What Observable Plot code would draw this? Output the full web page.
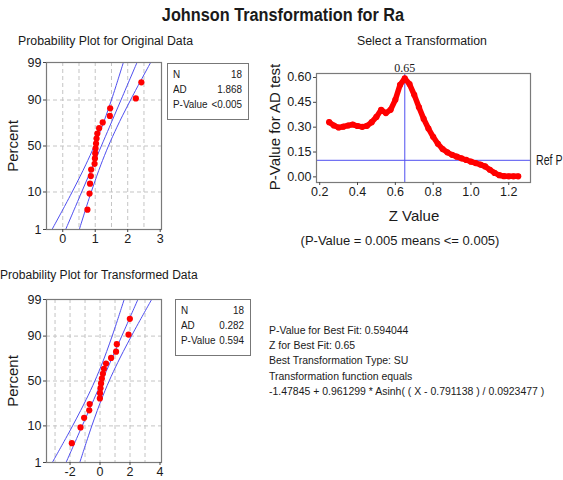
<!DOCTYPE html>
<html><head><meta charset="utf-8">
<script src="https://cdn.jsdelivr.net/npm/d3@7"></script>
<script src="https://cdn.jsdelivr.net/npm/@observablehq/plot@0.6"></script>
<style>
body{margin:0;background:#fff;}
#root{position:relative;width:563px;height:480px;overflow:hidden;font-family:"Liberation Sans",Arial,sans-serif;color:#1a1a1a;background:#fff;}
.abs{position:absolute;white-space:nowrap;line-height:1;}
.box{position:absolute;border:1.3px solid #777;box-sizing:border-box;font-size:11.5px;overflow:hidden;}
.box .inner{position:absolute;left:5px;top:3px;transform-origin:left top;}
.box .row{display:flex;justify-content:space-between;height:15px;line-height:15px;white-space:nowrap;}
.box .row span{flex-shrink:0;}
svg{position:absolute;}
</style></head><body><div id="root"></div>
<script>
// ---------- data ----------
const percentLevels = [3.80, 9.24, 14.67, 20.11, 25.54, 30.98, 36.41, 41.85, 47.28, 52.72, 58.15, 63.59, 69.02, 74.46, 79.89, 85.33, 90.76, 96.20];
const originalData = [0.76, 0.825, 0.84, 0.865, 0.875, 0.98, 0.99, 1.00, 1.01, 1.025, 1.04, 1.065, 1.12, 1.23, 1.45, 1.46, 2.25, 2.42];
const transformedData = [-1.88, -1.30, -1.06, -0.72, -0.69, -0.01, 0.00, 0.03, 0.07, 0.12, 0.19, 0.26, 0.40, 0.74, 1.07, 1.12, 1.90, 1.99];

const bandPercent = [1, 5, 10, 20, 30, 50, 70, 80, 90, 95, 99];
const origLower = [-0.330, 0.078, 0.289, 0.537, 0.708, 0.970, 1.203, 1.331, 1.499, 1.630, 1.866];
const origFit   = [0.090, 0.412, 0.583, 0.791, 0.941, 1.188, 1.436, 1.585, 1.793, 1.964, 2.286];
const origUpper = [0.510, 0.746, 0.877, 1.045, 1.173, 1.406, 1.668, 1.839, 2.087, 2.298, 2.706];
const transLower = [-3.182, -2.294, -1.832, -1.291, -0.918, -0.346, 0.162, 0.443, 0.808, 1.094, 1.610];
const transFit   = [-2.266, -1.564, -1.190, -0.737, -0.410, 0.130, 0.670, 0.997, 1.450, 1.824, 2.526];
const transUpper = [-1.350, -0.834, -0.548, -0.183, 0.098, 0.606, 1.178, 1.551, 2.092, 2.554, 3.442];

const zValues = [0.250,0.275,0.300,0.325,0.350,0.375,0.400,0.425,0.450,0.475,0.500,0.525,0.550,0.575,0.600,0.625,0.650,0.675,0.700,0.725,0.750,0.775,0.800,0.825,0.850,0.875,0.900,0.925,0.950,0.975,1.000,1.025,1.050,1.075,1.100,1.125,1.150,1.175,1.200,1.225,1.250];
const pValues = [0.330,0.310,0.298,0.303,0.310,0.316,0.307,0.302,0.308,0.330,0.362,0.405,0.385,0.405,0.465,0.555,0.594,0.560,0.495,0.420,0.350,0.292,0.242,0.200,0.168,0.148,0.133,0.122,0.112,0.102,0.092,0.083,0.074,0.063,0.043,0.024,0.010,0.004,0.003,0.003,0.003];
const bestZ = 0.65;
const refP = 0.10;

const probTicks = [1, 10, 50, 90, 99];
const probGrid = [10, 50, 90];
const origXTicks = [0, 1, 2, 3];
const origXGrid = [0, 0.5, 1, 1.5, 2, 2.5];
const transXTicks = [-2, 0, 2, 4];
const transXGrid = [-3, -2, -1, 0, 1, 2, 3];
const zTicks = [0.2, 0.4, 0.6, 0.8, 1.0, 1.2];
const pTicks = [0, 0.15, 0.30, 0.45, 0.60];

const origStats = [["N", "18"], ["AD", "1.868"], ["P-Value", "<0.005"]];
const transStats = [["N", "18"], ["AD", "0.282"], ["P-Value", "0.594"]];
const fitNotes = [
  "P-Value for Best Fit: 0.594044",
  "Z for Best Fit: 0.65",
  "Best Transformation Type: SU",
  "Transformation function equals",
  "-1.47845 + 0.961299 * Asinh( ( X - 0.791138 ) / 0.0923477 )"
];

// ---------- helpers ----------
function probit(p){
  const a=[-3.969683028665376e+01,2.209460984245205e+02,-2.759285104469687e+02,1.383577518672690e+02,-3.066479806614716e+01,2.506628277459239e+00];
  const b=[-5.447609879822406e+01,1.615858368580409e+02,-1.556989798598866e+02,6.680131188771972e+01,-1.328068155288572e+01];
  const c=[-7.784894002430293e-03,-3.223964580411365e-01,-2.400758277161838e+00,-2.549732539343734e+00,4.374664141464968e+00,2.938163982698783e+00];
  const d=[7.784695709041462e-03,3.224671290700398e-01,2.445134137142996e+00,3.754408661907416e+00];
  const pl=0.02425, ph=1-pl; let q,r;
  if(p<pl){q=Math.sqrt(-2*Math.log(p));return (((((c[0]*q+c[1])*q+c[2])*q+c[3])*q+c[4])*q+c[5])/((((d[0]*q+d[1])*q+d[2])*q+d[3])*q+1);}
  if(p>ph){q=Math.sqrt(-2*Math.log(1-p));return -(((((c[0]*q+c[1])*q+c[2])*q+c[3])*q+c[4])*q+c[5])/((((d[0]*q+d[1])*q+d[2])*q+d[3])*q+1);}
  q=p-0.5;r=q*q;return (((((a[0]*r+a[1])*r+a[2])*r+a[3])*r+a[4])*r+a[5])*q/(((((b[0]*r+b[1])*r+b[2])*r+b[3])*r+b[4])*r+1);
}
const pz = p => probit(p/100);
const BLUE = "#4f4ff0";
const FRAME = "#7a7a7a";
const root = document.getElementById("root");

function addText(txt, o){
  const el = document.createElement("div");
  el.className = "abs";
  el.textContent = txt;
  el.style.left = o.x + "px"; el.style.top = o.y + "px";
  el.style.fontSize = (o.size||12) + "px";
  if (o.weight) el.style.fontWeight = o.weight;
  if (o.family) el.style.fontFamily = o.family;
  const tx = o.anchor === "middle" ? "-50%" : (o.anchor === "end" ? "-100%" : "0");
  let t = `translate(${tx},-50%)`;
  if (o.rotate) t += ` rotate(${o.rotate}deg)`;
  if (o.sx) { t += ` scaleX(${o.sx})`; }
  el.style.transform = t;
  if (o.sx && o.anchor !== "middle") el.style.transformOrigin = "left center";
  root.appendChild(el);
  return el;
}
function addBox(rows, x, y, w, h){
  const sx = 0.86;
  const el = document.createElement("div");
  el.className = "box";
  el.style.left = x+"px"; el.style.top = y+"px"; el.style.width = w+"px"; el.style.height = h+"px";
  const inner = document.createElement("div");
  inner.className = "inner";
  inner.style.width = ((w - 13) / sx) + "px";
  inner.style.transform = `scaleX(${sx})`;
  for (const [k,v] of rows){
    const r = document.createElement("div"); r.className = "row";
    const a = document.createElement("span"); a.textContent = k;
    const b = document.createElement("span"); b.textContent = v;
    r.appendChild(a); r.appendChild(b); inner.appendChild(r);
  }
  el.appendChild(inner);
  root.appendChild(el);
}
function place(svg, left, top){ svg.style.left = left+"px"; svg.style.top = top+"px"; root.appendChild(svg); }

function probPanel(values, lower, fit, upper, xDomain, xTicks, xGrid, height, mTop, mBottom){
  const pts = values.map((v,i)=>({x:v, p:percentLevels[i]}));
  const band = bandPercent.map((p,i)=>({p, lo:lower[i], fit:fit[i], hi:upper[i]}));
  const labelFor = z => { const p = probTicks.find(t => Math.abs(pz(t)-z) < 1e-9); return p === undefined ? "" : String(p); };
  return Plot.plot({
    width:175, height, marginLeft:46, marginRight:14, marginTop:mTop, marginBottom:mBottom,
    style:{fontFamily:'"Liberation Sans",Arial,sans-serif', fontSize:"12.5px", color:"#1a1a1a", background:"transparent"},
    x:{domain:xDomain}, y:{domain:[pz(1), pz(99)]},
    marks:[
      Plot.gridX(xGrid, {stroke:"#c4c4c4", strokeOpacity:1, strokeDasharray:"4,3"}),
      Plot.gridY(probGrid.map(pz), {stroke:"#c4c4c4", strokeOpacity:1, strokeDasharray:"4,3"}),
      Plot.line(band, {x:"lo", y:d=>pz(d.p), stroke:BLUE, strokeWidth:1, curve:"catmull-rom"}),
      Plot.line(band, {x:"fit", y:d=>pz(d.p), stroke:BLUE, strokeWidth:1, curve:"catmull-rom"}),
      Plot.line(band, {x:"hi", y:d=>pz(d.p), stroke:BLUE, strokeWidth:1, curve:"catmull-rom"}),
      Plot.dot(pts, {x:"x", y:d=>pz(d.p), fill:"#ff0000", r:3.1}),
      Plot.frame({stroke:FRAME, strokeWidth:1.2}),
      Plot.axisX(xTicks, {tickSize:3, tickPadding:2, label:null, tickFormat:d=>String(d), stroke:"#444"}),
      Plot.axisY(probTicks.map(pz), {tickSize:3, tickPadding:2, label:null, tickFormat:labelFor, stroke:"#444"})
    ]
  });
}

// ---------- title & headings ----------
addText("Johnson Transformation for Ra", {x:283, y:16, anchor:"middle", size:17.5, weight:700, sx:0.93});
addText("Probability Plot for Original Data", {x:18, y:41, size:12.3});
addText("Select a Transformation", {x:422, y:41, anchor:"middle", size:12.3});
addText("Probability Plot for Transformed Data", {x:0, y:275, size:12.3, sx:0.98});

// ---------- top-left probability plot ----------
place(probPanel(originalData, origLower, origFit, origUpper, [-0.5, 3.04], origXTicks, origXGrid, 210, 22, 21), 0, 40);
addText("Percent", {x:12, y:146, anchor:"middle", size:15, rotate:-90});
addBox(origStats, 167, 63, 82, 57);

// ---------- bottom-left probability plot ----------
place(probPanel(transformedData, transLower, transFit, transUpper, [-3.57, 4.1], transXTicks, transXGrid, 200, 19, 18), 0, 280);
addText("Percent", {x:12, y:381, anchor:"middle", size:15, rotate:-90});
addBox(transStats, 175, 299, 76, 57);

// ---------- top-right selection plot ----------
const curve = zValues.map((z,i)=>({z, p:pValues[i]}));
place(Plot.plot({
  width:303, height:160, marginLeft:56, marginRight:33, marginTop:23, marginBottom:28,
  style:{fontFamily:'"Liberation Sans",Arial,sans-serif', fontSize:"12.5px", color:"#1a1a1a", background:"transparent", overflow:"visible"},
  x:{domain:[0.183, 1.315]}, y:{domain:[-0.034, 0.624]},
  marks:[
    Plot.ruleX([bestZ], {stroke:BLUE, strokeWidth:1}),
    Plot.ruleY([refP], {stroke:BLUE, strokeWidth:1}),
    Plot.line(curve, {x:"z", y:"p", stroke:"#ff0000", strokeWidth:5.5, strokeLinejoin:"round", strokeLinecap:"round"}),
    Plot.dot(curve, {x:"z", y:"p", fill:"#ff0000", r:3.1}),
    Plot.frame({stroke:FRAME, strokeWidth:1.2}),
    Plot.axisX(zTicks, {tickSize:3, tickPadding:2, label:null, tickFormat:d3.format(".1f"), stroke:"#444"}),
    Plot.axisY(pTicks, {tickSize:3, tickPadding:2, label:null, tickFormat:d3.format(".2f"), stroke:"#444"}),
    Plot.text([bestZ], {x:d=>d, frameAnchor:"top", dy:-10, text:d=>d.toFixed(2), fontFamily:'"Liberation Serif",serif', fontSize:12})
  ]
}), 260, 50);
addText("Ref P", {x:536, y:160, size:14, sx:0.76});
addText("P-Value for AD test", {x:273.5, y:127, anchor:"middle", size:15, rotate:-90});
addText("Z Value", {x:414, y:215, anchor:"middle", size:15});
addText("(P-Value = 0.005 means <= 0.005)", {x:400, y:240, anchor:"middle", size:13});

// ---------- notes ----------
fitNotes.forEach((t,i)=> addText(t, {x:269, y:331 + i*15.2, size:11.5, sx:0.91}));
</script></body></html>
